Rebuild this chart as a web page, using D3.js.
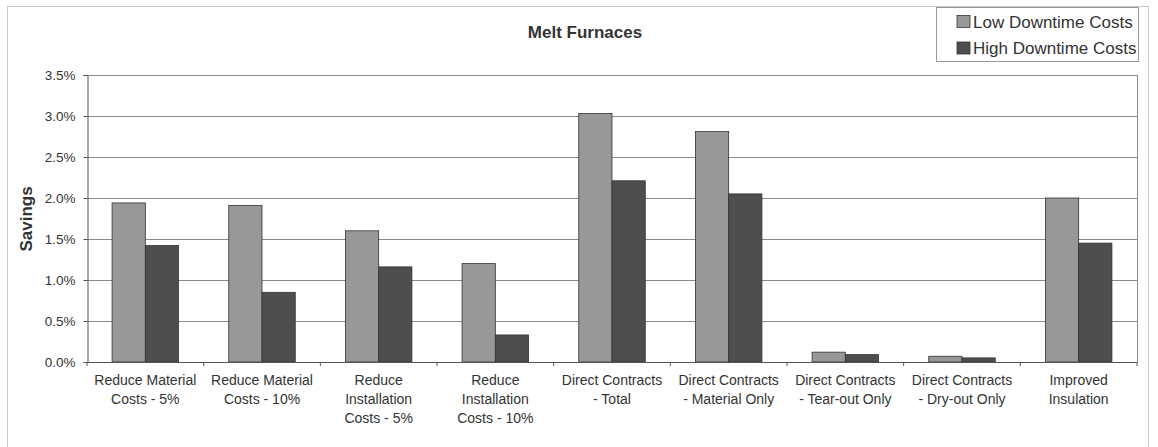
<!DOCTYPE html>
<html><head><meta charset="utf-8">
<script src="https://cdn.jsdelivr.net/npm/d3@7"></script>
<style>body{margin:0;background:#fff;} text{font-family:"Liberation Sans",Arial,sans-serif;fill:#333;}</style>
</head><body><svg id="c" width="1158" height="447"></svg>
<script>
const categories = [
  ["Reduce Material","Costs - 5%"],
  ["Reduce Material","Costs - 10%"],
  ["Reduce","Installation","Costs - 5%"],
  ["Reduce","Installation","Costs - 10%"],
  ["Direct Contracts","- Total"],
  ["Direct Contracts","- Material Only"],
  ["Direct Contracts","- Tear-out Only"],
  ["Direct Contracts","- Dry-out Only"],
  ["Improved","Insulation"]
];
const seriesNames = ["Low Downtime Costs","High Downtime Costs"];
const lowValues  = [0.0194,0.0191,0.0160,0.0120,0.0303,0.0281,0.0012,0.0007,0.0200];
const highValues = [0.0142,0.0085,0.0116,0.0033,0.0221,0.0205,0.0009,0.0005,0.0145];
const yTicks = [0,0.005,0.01,0.015,0.02,0.025,0.03,0.035];
const colors = ["#989898","#4e4e4e"];

const svg = d3.select("#c");
const m = {l:87, r:1137, t:75, b:362};
// outer border
svg.append("rect").attr("x",7.5).attr("y",6.5).attr("width",1141).attr("height",450)
  .attr("fill","#fff").attr("stroke","#c8c8c8");

const x = d3.scaleBand().domain(d3.range(categories.length)).range([m.l,m.r]).paddingInner(0.43).paddingOuter(0.215);
const x1 = d3.scaleBand().domain([0,1]).range([0,x.bandwidth()]);
const y = d3.scaleLinear().domain([0,0.035]).range([m.b,m.t]);

// gridlines
svg.append("g").selectAll("line").data(yTicks.slice(1)).join("line")
  .attr("x1",m.l).attr("x2",m.r).attr("y1",d=>Math.round(y(d))+0.5).attr("y2",d=>Math.round(y(d))+0.5)
  .attr("stroke","#8a8a8a").attr("stroke-width",1);
svg.append("line").attr("x1",m.r+0.5).attr("x2",m.r+0.5).attr("y1",m.t).attr("y2",m.b).attr("stroke","#8a8a8a");

// y axis
const ya = svg.append("g").attr("transform",`translate(${m.l+0.5},0)`)
  .call(d3.axisLeft(y).tickValues(yTicks).tickFormat(d3.format(".1%")).tickSize(4).tickPadding(8));
ya.select(".domain").attr("stroke","#555");
ya.selectAll(".tick line").attr("stroke","#555");
ya.selectAll("text").attr("font-size","13.5px").attr("fill","#444").style("font-family","Liberation Sans, Arial, sans-serif");

// bars
const g = svg.append("g");
categories.forEach((c,i)=>{
  [lowValues[i],highValues[i]].forEach((v,s)=>{
    g.append("rect").attr("x",x(i)+x1(s)).attr("y",y(v)).attr("width",x1.bandwidth()).attr("height",m.b-y(v))
      .attr("fill",colors[s]).attr("stroke","#333").attr("stroke-width",0.8);
  });
});

// x axis
const step = (m.r-m.l)/categories.length;
svg.append("line").attr("x1",m.l).attr("x2",m.r).attr("y1",m.b+0.5).attr("y2",m.b+0.5).attr("stroke","#555");
svg.append("g").selectAll("line").data(d3.range(categories.length+1)).join("line")
  .attr("x1",d=>m.l+d*step).attr("x2",d=>m.l+d*step).attr("y1",m.b).attr("y2",m.b+4).attr("stroke","#555");
categories.forEach((lines,i)=>{
  const cx = x(i)+x.bandwidth()/2;
  const t = svg.append("text").attr("text-anchor","middle").attr("font-size","14px").attr("fill","#444")
    .attr("x",cx).attr("y",385);
  lines.forEach((ln,k)=>t.append("tspan").attr("x",cx).attr("dy",k?19:0).text(ln));
});

// title
svg.append("text").attr("x",585).attr("y",38).attr("text-anchor","middle").attr("font-size","17px").attr("font-weight","bold").attr("fill","#333").text("Melt Furnaces");
// y title
svg.append("text").attr("transform","translate(32,219) rotate(-90)").attr("text-anchor","middle").attr("font-size","17px").attr("font-weight","bold").attr("fill","#333").text("Savings");

// legend
const lg = svg.append("g");
lg.append("rect").attr("x",936.5).attr("y",7.5).attr("width",202).attr("height",54).attr("fill","#fff").attr("stroke","#999");
seriesNames.forEach((n,i)=>{
  const yy = 21+i*26.5;
  lg.append("rect").attr("x",957).attr("y",yy-5.5).attr("width",13).attr("height",12).attr("fill",colors[i]).attr("stroke","#333").attr("stroke-width",0.8);
  lg.append("text").attr("x",973).attr("y",yy+6.5).attr("font-size","17px").attr("fill","#333").text(n);
});
</script></body></html>
